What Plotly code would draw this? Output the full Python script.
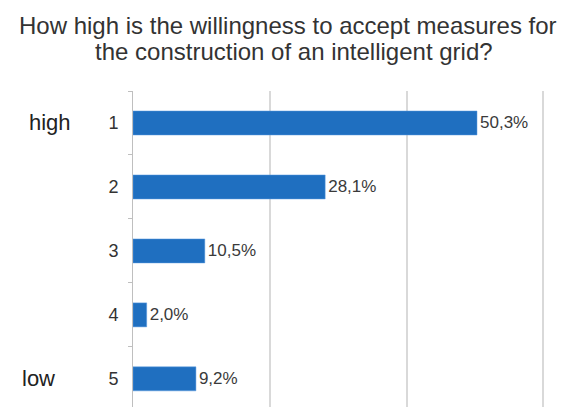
import plotly.graph_objects as go

categories = ["1", "2", "3", "4", "5"]
values = [50.3, 28.1, 10.5, 2.0, 9.2]
scale_labels = ["high", "low"]
scale_label_cats = [0, 4]
x_ticks = [0, 20, 40, 60]
title_lines = ["How high is the willingness to accept measures for",
               "the construction of an intelligent grid?"]

labels = [f"{v:.1f}".replace(".", ",") + "%" for v in values]

OFF = 8  # default page body margin
W, H = 576 - OFF, 407 - OFF
L, R, T, B = 133 - OFF, 19, 91 - OFF, 0
PW, PH = W - L - R, H - T - B


def px_x(x):
    return (x - OFF - L) / PW


def px_y(y):
    return 1 + (T - (y - OFF)) / PH


FONT = "Liberation Sans, Arial, sans-serif"

fig = go.Figure(go.Bar(
    x=values, y=categories, orientation="h",
    marker=dict(color="#1f6fc0", line=dict(color="#5a9be0", width=0.5)),
    width=0.375,
    text=labels, textposition="outside", cliponaxis=False,
    textfont=dict(family=FONT, size=17, color="#3a3a3a"),
))

for idx, lab, cx in zip(scale_label_cats, scale_labels, [50, 38]):
    fig.add_annotation(x=px_x(cx), xref="paper", y=idx, yref="y", text=lab,
                       showarrow=False, xanchor="center", yanchor="middle",
                       font=dict(family=FONT, size=22, color="#222222"))

for line, (cx, cy) in zip(title_lines, [(288, 25), (294, 51)]):
    fig.add_annotation(x=px_x(cx), xref="paper", y=px_y(cy), yref="paper", text=line,
                       showarrow=False, xanchor="center", yanchor="middle",
                       font=dict(family=FONT, size=24, color="#333333"))

fig.update_layout(
    width=W, height=H,
    margin=dict(l=L, r=R, t=T, b=B, autoexpand=False),
    paper_bgcolor="white", plot_bgcolor="white",
    showlegend=False,
)
fig.update_xaxes(range=[0, 62], tickvals=x_ticks, showticklabels=False, showgrid=True,
                 gridcolor="#d9d9d9", gridwidth=1.5, zeroline=False, showline=False,
                 automargin=False)
fig.update_yaxes(categoryorder="array", categoryarray=categories,
                 range=[4.44, -0.5], showline=True, linecolor="#bfbfbf", linewidth=1,
                 ticks="outside", tickson="boundaries", ticklen=4, tickcolor="#bfbfbf",
                 ticklabelstandoff=10, automargin=False,
                 tickfont=dict(family=FONT, size=18, color="#333333"),
                 showgrid=False)

fig.write_html("out.html")
